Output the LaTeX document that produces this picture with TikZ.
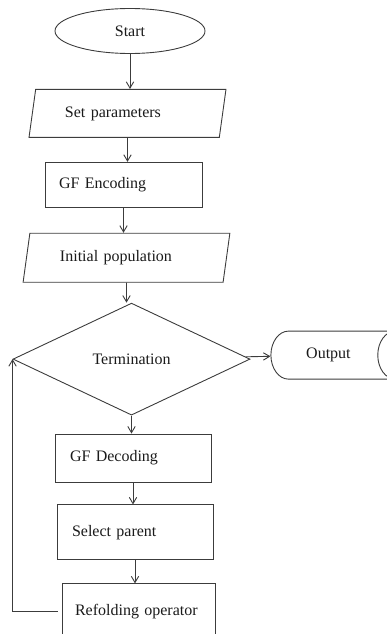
\documentclass[tikz,border=0pt]{standalone}
\usepackage{fontspec}
\setmainfont{Liberation Serif}
\usepackage{tikz}
\usetikzlibrary{arrows.meta,positioning,shapes.geometric}
\definecolor{gfline}{HTML}{3C3C3C}
\definecolor{gftext}{HTML}{1A1A1A}
\tikzset{%
  gfbase/.style={%
    draw=gfline,
    line width=0.9pt,
    text=gftext,
    font=\fontsize{16}{19}\selectfont
  },
  gfterminal/.style={%
    gfbase,
    ellipse,
    minimum width=150pt,
    minimum height=45pt
  },
  gfio/.style={%
    gfbase,
    trapezium,
    trapezium left angle=77,
    trapezium right angle=103,
    trapezium stretches=true,
    align=left
  },
  gfbox/.style={%
    gfbase,
    rectangle,
    align=left
  },
  gfdecision/.style={%
    gfbase,
    diamond,
    minimum width=237pt,
    minimum height=112pt
  },
  gfstore/.style={%
    gfbase,
    cylinder,
    aspect=1.7,
    minimum width=48pt,
    minimum height=142pt
  },
  gfarrow/.style={-{Straight Barb[length=2.2mm,width=2.6mm]},line width=0.9pt,draw=gfline}
}
\begin{document}
\begin{tikzpicture}[node distance=22pt]
  \useasboundingbox (0pt,0pt) rectangle (387pt,-634pt);
  \node[gfterminal] (start) at (130pt,-31pt) {Start};
  \node[gfio,minimum width=197pt,minimum height=48pt,text width=125pt,below=35pt of start,xshift=-2.5pt] (params) {Set parameters};
  \node[gfbox,minimum width=157pt,minimum height=45pt,text width=129pt,below=24pt of params,xshift=-4pt] (encoding) {GF Encoding};
  \node[gfio,minimum width=207pt,minimum height=49pt,text width=133pt,below=25pt of encoding,xshift=3pt] (initpop) {Initial population};
  \node[gfdecision,below=20pt of initpop,xshift=5pt] (termination) {Termination};
  \node[gfstore,right=20pt of termination,yshift=4pt] (output) {Output};
  \node[gfbox,minimum width=156pt,minimum height=48pt,text width=126pt,below=18pt of termination,xshift=1.5pt] (decoding) {GF Decoding};
  \node[gfbox,minimum width=156pt,minimum height=55pt,text width=126pt,below=22pt of decoding,xshift=2pt] (parent) {Select parent};
  \node[gfbox,minimum width=153pt,minimum height=55pt,text width=127pt,below=23pt of parent,xshift=3.5pt] (refolding) {Refolding operator};

  \draw[gfarrow] (start) -- (start |- params.north);
  \draw[gfarrow] (params) -- (params |- encoding.north);
  \draw[gfarrow] (encoding) -- (encoding |- initpop.north);
  \draw[gfarrow] (initpop) -- (initpop |- termination.north);
  \draw[gfarrow] (termination) -- (output);
  \draw[gfarrow] (termination) -- (termination |- decoding.north);
  \draw[gfarrow] (decoding) -- (decoding |- parent.north);
  \draw[gfarrow] (parent) -- (parent |- refolding.north);
  \draw[gfarrow,shorten <=4pt] (refolding.west) -| (termination.west);
\end{tikzpicture}
\end{document}
